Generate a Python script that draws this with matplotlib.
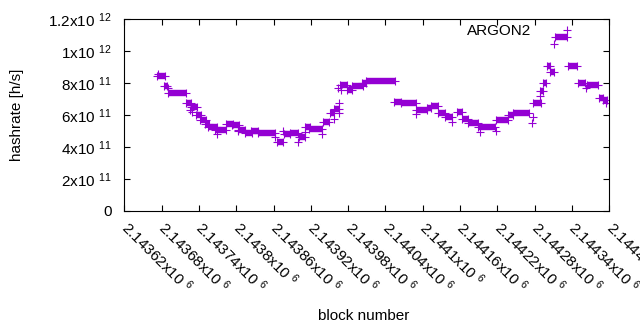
import matplotlib
matplotlib.use("Agg")
import matplotlib.pyplot as plt
from matplotlib.lines import Line2D

plt.rcParams['font.family'] = ['Liberation Sans', 'DejaVu Sans']
plt.rcParams['mathtext.fontset'] = 'custom'
plt.rcParams['mathtext.rm'] = 'Liberation Sans'
plt.rcParams['mathtext.it'] = 'Liberation Sans:italic'
plt.rcParams['mathtext.bf'] = 'Liberation Sans:bold'

# --- data: runs of blocks with constant hashrate (start block, end block, value)
seg_start = [2143673, 2143684, 2143690, 2143719, 2143727, 2143735, 2143742, 2143750,
             2143755, 2143766, 2143784, 2143793, 2143803, 2143814, 2143824, 2143835,
             2143866, 2143877, 2143886, 2143901, 2143911, 2143917, 2143940, 2143951,
             2143957, 2143967, 2143978, 2143986, 2144002, 2144008, 2144054, 2144065,
             2144089, 2144107, 2144113, 2144125, 2144136, 2144155, 2144163, 2144173,
             2144189, 2144218, 2144237, 2144245, 2144278, 2144289, 2144293, 2144300,
             2144305, 2144313, 2144334, 2144350, 2144364, 2144384, 2144390]
seg_end = [2143685, 2143688, 2143719, 2143728, 2143737, 2143743, 2143751, 2143756,
           2143769, 2143784, 2143795, 2143804, 2143814, 2143825, 2143835, 2143862,
           2143875, 2143886, 2143899, 2143911, 2143919, 2143938, 2143949, 2143957,
           2143965, 2143978, 2143986, 2144004, 2144008, 2144055, 2144065, 2144089,
           2144107, 2144113, 2144125, 2144136, 2144147, 2144163, 2144173, 2144189,
           2144216, 2144237, 2144245, 2144271, 2144290, 2144293, 2144299, 2144305,
           2144311, 2144332, 2144348, 2144361, 2144382, 2144390, 2144396]
seg_value = [8.44e11, 7.85e11, 7.36e11, 6.74e11, 6.54e11, 6.00e11, 5.69e11, 5.47e11,
             5.26e11, 5.06e11, 5.43e11, 5.38e11, 5.06e11, 4.87e11, 5.01e11, 4.87e11,
             4.35e11, 4.81e11, 4.87e11, 4.66e11, 5.28e11, 5.12e11, 5.58e11, 6.14e11,
             6.40e11, 7.90e11, 7.57e11, 7.83e11, 8.00e11, 8.11e11, 6.84e11, 6.73e11,
             6.32e11, 6.46e11, 6.60e11, 6.12e11, 5.87e11, 6.19e11, 5.79e11, 5.50e11,
             5.24e11, 5.68e11, 6.03e11, 6.12e11, 6.75e11, 7.50e11, 8.00e11, 9.05e11,
             8.68e11, 1.087e12, 9.06e11, 8.00e11, 7.86e11, 7.10e11, 6.92e11]

# --- data: isolated blocks
pt_x = [2143674, 2143690, 2143726, 2143729, 2143769, 2143803, 2143862, 2143876,
        2143900, 2143911, 2143938, 2143957, 2143964, 2143965, 2143965, 2143968,
        2144089, 2144147, 2144192, 2144217, 2144275, 2144277, 2144288, 2144311,
        2144363, 2144394]
pt_y = [8.55e11, 7.72e11, 6.32e11, 6.22e11, 4.85e11, 4.98e11, 4.62e11, 5.00e11,
        4.30e11, 4.93e11, 4.82e11, 5.76e11, 7.68e11, 6.74e11, 6.15e11, 7.57e11,
        6.10e11, 5.59e11, 4.96e11, 5.00e11, 5.49e11, 5.88e11, 7.22e11, 1.045e12,
        7.68e11, 6.75e11]

xtick_values = [2143620, 2143680, 2143740, 2143800, 2143860, 2143920, 2143980,
                2144040, 2144100, 2144160, 2144220, 2144280, 2144340, 2144400]
xtick_mant = ["2.14362", "2.14368", "2.14374", "2.1438", "2.14386", "2.14392", "2.14398",
              "2.14404", "2.1441", "2.14416", "2.14422", "2.14428", "2.14434", "2.1444"]
ytick_values = [0, 2e11, 4e11, 6e11, 8e11, 1e12, 1.2e12]
ytick_labels = ["0", "2x10 $^{11}$", "4x10 $^{11}$", "6x10 $^{11}$", "8x10 $^{11}$",
                "1x10 $^{12}$", "1.2x10 $^{12}$"]
series_name = "ARGON2"

color = "#9400D3"
fig = plt.figure(figsize=(6.4, 3.3), dpi=100)
ax = fig.add_axes([124.3 / 640, 1 - 211 / 330, (609.3 - 124.3) / 640, (211 - 19.3) / 330])

ms = 5.6
mew = 0.8
ax.hlines(seg_value, seg_start, seg_end, colors=color, linewidth=4.6, capstyle='butt')
ax.plot(seg_start, seg_value, linestyle='none', marker='+', ms=ms, mew=mew, color=color)
ax.plot(seg_end, seg_value, linestyle='none', marker='+', ms=ms, mew=mew, color=color)
ax.plot(pt_x, pt_y, linestyle='none', marker='+', ms=ms, mew=mew, color=color)

ax.set_xlim(xtick_values[0], xtick_values[-1])
ax.set_ylim(0, 1.2e12)
ax.set_xticks(xtick_values)
ax.set_xticklabels([m + "x10 $^{6}$" for m in xtick_mant], rotation=-45,
                   ha='left', va='center', rotation_mode='anchor', fontsize=11)
ax.set_yticks(ytick_values)
ax.set_yticklabels(ytick_labels, fontsize=11)
ax.tick_params(direction='in', length=4.5, width=0.8, top=True, right=True)
ax.tick_params(axis='y', pad=9)
ax.tick_params(axis='x', pad=10)
for s in ax.spines.values():
    s.set_linewidth(0.8)

ax.set_ylabel("hashrate [h/s]", fontsize=11, va='center')
ax.yaxis.set_label_coords((17 - 124.3) / 485, 0.5)
ax.set_xlabel("block number", fontsize=11, va='center')
ax.xaxis.set_label_coords((364 - 124.3) / 485, (211 - 316) / 191.7)

handle = Line2D([], [], linestyle='none', marker='+', ms=ms, mew=mew, color=color)
ax.legend([handle], [series_name], loc='upper right', markerfirst=False, frameon=False,
          fontsize=11, handlelength=2.0, handletextpad=1.3, borderpad=0, borderaxespad=0,
          bbox_to_anchor=((582 - 124.3) / 485, (211 - 24) / 191.7))

fig.savefig("out.png", dpi=100)
